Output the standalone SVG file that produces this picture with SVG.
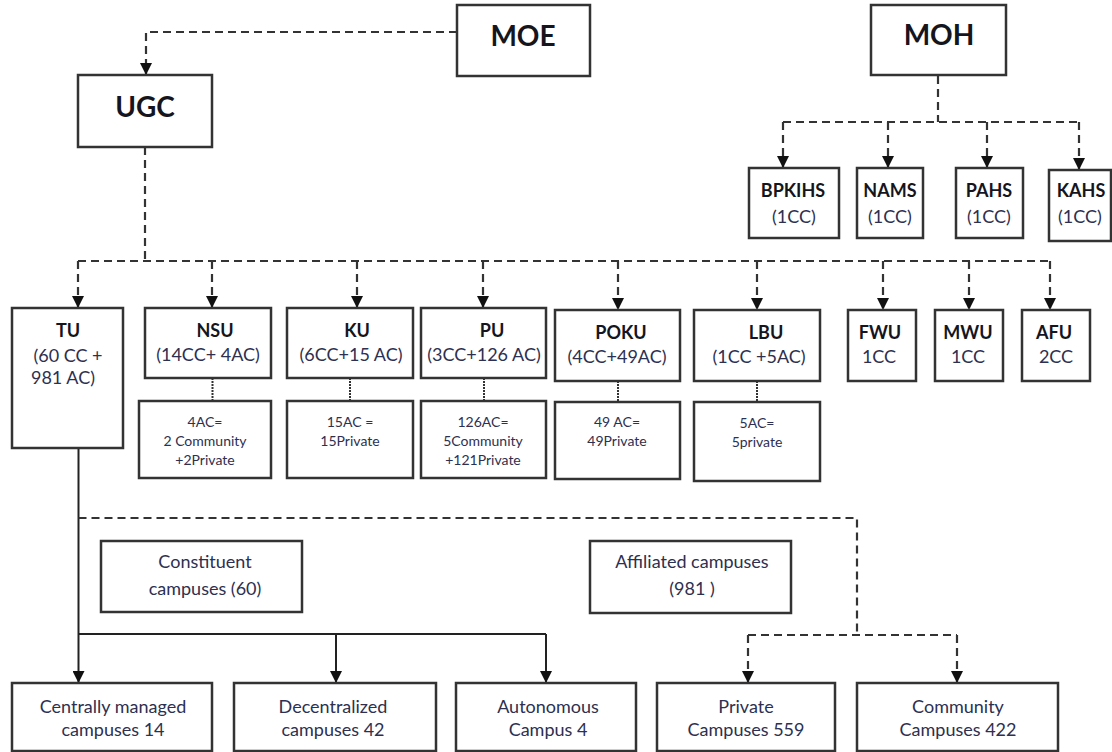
<svg xmlns="http://www.w3.org/2000/svg" width="1112" height="752" viewBox="0 0 1112 752">
<defs>
<marker id="ah" viewBox="0 0 12 12" refX="12" refY="6" markerWidth="12" markerHeight="12" markerUnits="userSpaceOnUse" orient="auto">
<path d="M0,0 L12,6 L0,12 z" fill="#111"/>
</marker>
<style>
.box{fill:#fff;stroke:#333;stroke-width:2.5}
.t{font-family:Lato,"Open Sans","Liberation Sans",sans-serif;fill:#2d3050;text-anchor:middle}
.b{font-family:Lato,"Open Sans","Liberation Sans",sans-serif;fill:#151520;font-weight:bold;text-anchor:middle}
.big{font-size:28px}
.m{font-size:18px}
.s{font-size:14px}
.l{font-size:18px}
.dash{fill:none;stroke:#333;stroke-width:2.2;stroke-dasharray:8 5}
.dot{fill:none;stroke:#333;stroke-width:2;stroke-dasharray:2 1}
.solid{fill:none;stroke:#222;stroke-width:2}
</style>
</defs>
<rect width="1112" height="752" fill="#fff"/>
<g id="connectors">
<path class="dash" d="M457,32 H146 V75" marker-end="url(#ah)"/>
<path class="dash" d="M145,147 V261"/>
<path class="dash" d="M78,261 H1050"/>
<path class="dash" d="M78,261 V308" marker-end="url(#ah)"/>
<path class="dash" d="M212,261 V308" marker-end="url(#ah)"/>
<path class="dash" d="M357,261 V308" marker-end="url(#ah)"/>
<path class="dash" d="M483,261 V308" marker-end="url(#ah)"/>
<path class="dash" d="M618,261 V310" marker-end="url(#ah)"/>
<path class="dash" d="M757,261 V310" marker-end="url(#ah)"/>
<path class="dash" d="M883,261 V310" marker-end="url(#ah)"/>
<path class="dash" d="M969,261 V310" marker-end="url(#ah)"/>
<path class="dash" d="M1050,261 V310" marker-end="url(#ah)"/>
<path class="dash" d="M938,76 V122"/>
<path class="dash" d="M783,122 H1079"/>
<path class="dash" d="M783,122 V168" marker-end="url(#ah)"/>
<path class="dash" d="M888,122 V168" marker-end="url(#ah)"/>
<path class="dash" d="M987,122 V168" marker-end="url(#ah)"/>
<path class="dash" d="M1079,122 V170" marker-end="url(#ah)"/>
<path class="dot" d="M212.5,378 V401"/>
<path class="dot" d="M350,378 V401"/>
<path class="dot" d="M484,378 V401"/>
<path class="dot" d="M618,381 V402"/>
<path class="dot" d="M757,381 V402"/>
<path class="solid" d="M78.5,448 V683" marker-end="url(#ah)"/>
<path class="solid" d="M78.5,634 H546"/>
<path class="solid" d="M336,634 V683" marker-end="url(#ah)"/>
<path class="solid" d="M546,634 V683" marker-end="url(#ah)"/>
<path class="dash" d="M78.5,518 H857 V635"/>
<path class="dash" d="M748,635 H957"/>
<path class="dash" d="M748,635 V683" marker-end="url(#ah)"/>
<path class="dash" d="M957,635 V683" marker-end="url(#ah)"/>
</g>
<g id="moe"><rect class="box" x="457" y="5" width="133" height="71"/><text class="b big" x="523" y="46">MOE</text></g>
<g id="ugc"><rect class="box" x="78" y="75" width="134" height="72"/><text class="b big" x="145" y="117">UGC</text></g>
<g id="moh"><rect class="box" x="871" y="5" width="135" height="70"/><text class="b big" x="939" y="45">MOH</text></g>
<g id="bpkihs"><rect class="box" x="749" y="168" width="90" height="70"/><text class="b m" x="793" y="197">BPKIHS</text><text class="t m" x="794" y="223">(1CC)</text></g>
<g id="nams"><rect class="box" x="857" y="168" width="66" height="70"/><text class="b m" x="890" y="197">NAMS</text><text class="t m" x="890" y="223">(1CC)</text></g>
<g id="pahs"><rect class="box" x="956" y="168" width="67" height="70"/><text class="b m" x="989" y="197">PAHS</text><text class="t m" x="989" y="223">(1CC)</text></g>
<g id="kahs"><rect class="box" x="1049" y="170" width="62" height="71"/><text class="b m" x="1081" y="197">KAHS</text><text class="t m" x="1080" y="223">(1CC)</text></g>
<g id="tu"><rect class="box" x="12" y="308" width="111" height="140"/><text class="b m" x="68" y="337">TU</text><text class="t m" x="68" y="362">(60 CC +</text><text class="t m" x="63" y="384">981 AC)</text></g>
<g id="nsu"><rect class="box" x="145" y="308" width="126" height="70"/><text class="b m" x="215" y="337">NSU</text><text class="t m" x="208" y="361">(14CC+ 4AC)</text></g>
<g id="ku"><rect class="box" x="287" y="308" width="126" height="70"/><text class="b m" x="357" y="337">KU</text><text class="t m" x="351" y="361">(6CC+15 AC)</text></g>
<g id="pu"><rect class="box" x="421" y="308" width="125" height="70"/><text class="b m" x="492" y="337">PU</text><text class="t m" x="484" y="361">(3CC+126 AC)</text></g>
<g id="poku"><rect class="box" x="555" y="310" width="125" height="71"/><text class="b m" x="621" y="339">POKU</text><text class="t m" x="617" y="363">(4CC+49AC)</text></g>
<g id="lbu"><rect class="box" x="694" y="310" width="126" height="71"/><text class="b m" x="766" y="339">LBU</text><text class="t m" x="759" y="363">(1CC +5AC)</text></g>
<g id="fwu"><rect class="box" x="848" y="310" width="68" height="71"/><text class="b m" x="880" y="339">FWU</text><text class="t m" x="879" y="363">1CC</text></g>
<g id="mwu"><rect class="box" x="935" y="310" width="68" height="71"/><text class="b m" x="968" y="339">MWU</text><text class="t m" x="968" y="363">1CC</text></g>
<g id="afu"><rect class="box" x="1022" y="310" width="68" height="71"/><text class="b m" x="1054" y="339">AFU</text><text class="t m" x="1056" y="363">2CC</text></g>
<g id="nsu-ac"><rect class="box" x="139" y="401" width="132" height="77"/><text class="t s" x="205" y="427">4AC=</text><text class="t s" x="205" y="446">2 Community</text><text class="t s" x="205" y="465">+2Private</text></g>
<g id="ku-ac"><rect class="box" x="287" y="401" width="126" height="77"/><text class="t s" x="350" y="427">15AC  =</text><text class="t s" x="350" y="446">15Private</text></g>
<g id="pu-ac"><rect class="box" x="421" y="401" width="125" height="77"/><text class="t s" x="483" y="427">126AC=</text><text class="t s" x="483" y="446">5Community</text><text class="t s" x="483" y="465">+121Private</text></g>
<g id="poku-ac"><rect class="box" x="555" y="402" width="125" height="77"/><text class="t s" x="617" y="427">49 AC=</text><text class="t s" x="617" y="446">49Private</text></g>
<g id="lbu-ac"><rect class="box" x="694" y="402" width="126" height="79"/><text class="t s" x="757" y="428">5AC=</text><text class="t s" x="757" y="447">5private</text></g>
<g id="constituent"><rect class="box" x="101" y="541" width="201" height="71"/><text class="t l" x="205" y="568">Constituent</text><text class="t l" x="205" y="595">campuses (60)</text></g>
<g id="affiliated"><rect class="box" x="590" y="541" width="201" height="72"/><text class="t l" x="692" y="568">Affiliated campuses</text><text class="t l" x="692" y="595">(981 )</text></g>
<g id="central"><rect class="box" x="12" y="683" width="200" height="68"/><text class="t l" x="113" y="713">Centrally managed</text><text class="t l" x="113" y="736">campuses 14</text></g>
<g id="decentral"><rect class="box" x="234" y="683" width="202" height="68"/><text class="t l" x="333" y="713">Decentralized</text><text class="t l" x="333" y="736">campuses 42</text></g>
<g id="autonomous"><rect class="box" x="456" y="683" width="180" height="68"/><text class="t l" x="548" y="713">Autonomous</text><text class="t l" x="548" y="736">Campus 4</text></g>
<g id="private"><rect class="box" x="657" y="683" width="178" height="68"/><text class="t l" x="746" y="713">Private</text><text class="t l" x="746" y="736">Campuses 559</text></g>
<g id="community"><rect class="box" x="857" y="683" width="201" height="68"/><text class="t l" x="958" y="713">Community</text><text class="t l" x="958" y="736">Campuses 422</text></g>
</svg>
